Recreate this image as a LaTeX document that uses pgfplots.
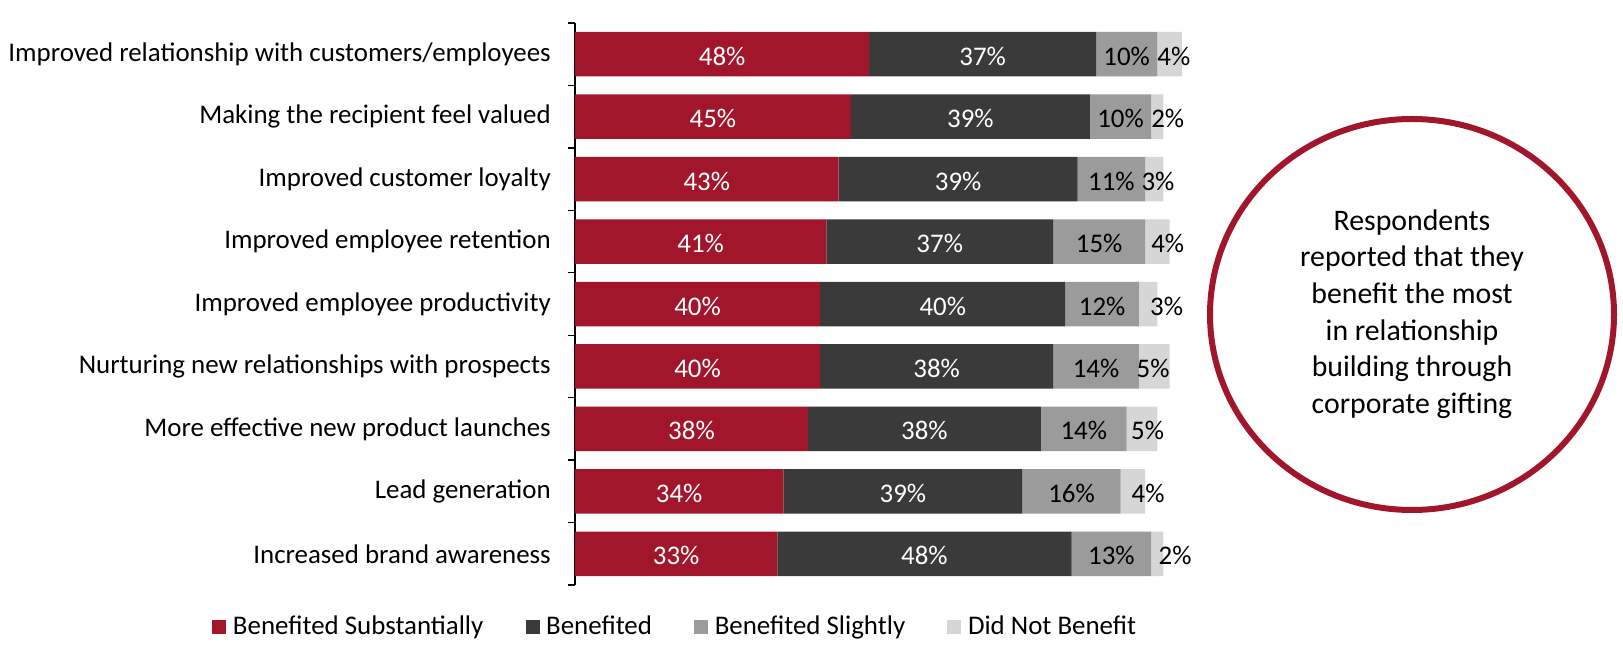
\documentclass[border=0pt]{standalone}
\usepackage{fontspec}
\setmainfont{Carlito}
\usepackage{pgfplots}
\pgfplotsset{compat=1.18}
\definecolor{cred}{RGB}{162,22,43}
\definecolor{cdark}{RGB}{58,58,58}
\definecolor{cgray}{RGB}{155,155,155}
\definecolor{clight}{RGB}{214,214,214}
\newcommand{\fs}{\fontsize{13.45}{16}\selectfont}
\begin{document}
\begin{tikzpicture}
\useasboundingbox (0,0) rectangle (811.5pt,329pt);
\pgfplotsset{base/.style={scale only axis, width=306.5pt, height=281pt,
  xmin=0, xmax=100, ymin=-0.5, ymax=8.5, at={(287.5pt,36.5pt)}, anchor=south west}}
\begin{axis}[base, xbar stacked, bar width=22.25pt,
  hide x axis, axis y line*=left, axis line style={-, line width=0.65pt, black},
  ytick={0,...,8},
  yticklabels={Increased brand awareness, Lead generation, More effective new product launches,
    Nurturing new relationships with prospects, Improved employee productivity,
    Improved employee retention, Improved customer loyalty, Making the recipient feel valued,
    Improved relationship with customers/employees},
  yticklabel style={font=\fs, xshift=-8.6pt},
  minor ytick={-0.5,0.5,...,8.5}, tick align=outside, major tick length=0pt, minor tick length=3.5pt,
  minor tick style={line width=0.65pt, black},
  legend style={at={(-0.5922,-0.0747)}, anchor=west, draw=none, fill=none, inner sep=0pt,
    legend columns=4, font=\fs, nodes={inner xsep=3.3pt, inner ysep=0pt},
    /tikz/every even column/.append style={column sep=17.8pt}},
  legend image code/.code={\fill[#1] (0pt,-3.5pt) rectangle (7pt,3.5pt);},
  legend cell align=left]
\addplot[fill=cred, draw=none] coordinates {(33,0) (34,1) (38,2) (40,3) (40,4) (41,5) (43,6) (45,7) (48,8)};
\addplot[fill=cdark, draw=none] coordinates {(48,0) (39,1) (38,2) (38,3) (40,4) (37,5) (39,6) (39,7) (37,8)};
\addplot[fill=cgray, draw=none] coordinates {(13,0) (16,1) (14,2) (14,3) (12,4) (15,5) (11,6) (10,7) (10,8)};
\addplot[fill=clight, draw=none] coordinates {(2,0) (4,1) (5,2) (5,3) (3,4) (4,5) (3,6) (2,7) (4,8)};
\legend{Benefited Substantially, Benefited, Benefited Slightly, Did Not Benefit}
\end{axis}
\begin{axis}[base, hide axis]
\addplot[draw=none, mark=none, nodes near coords={\pgfplotspointmeta\%}, point meta=explicit symbolic,
  nodes near coords style={anchor=center, text=white, font=\fs, yshift=-1pt}]
  table[meta=l] {
x y l
16.5 0 33
17 1 34
19 2 38
20 3 40
20 4 40
20.5 5 41
21.5 6 43
22.5 7 45
24 8 48
57 0 48
53.5 1 39
57 2 38
59 3 38
60 4 40
59.5 5 37
62.5 6 39
64.5 7 39
66.5 8 37
};
\addplot[draw=none, mark=none, nodes near coords={\pgfplotspointmeta\%}, point meta=explicit symbolic,
  nodes near coords style={anchor=center, text=black, font=\fs, yshift=-1pt}]
  table[meta=l] {
x y l
87.5 0 13
81 1 16
83 2 14
85 3 14
86 4 12
85.5 5 15
87.5 6 11
89 7 10
90 8 10
97.9 0 2
93.5 1 4
93.4 2 5
94.3 3 5
96.5 4 3
96.7 5 4
95.1 6 3
96.7 7 2
97.7 8 4
};
\end{axis}
\draw[cred, line width=3pt] (706pt,171.75pt) ellipse [x radius=101pt, y radius=97.75pt];
\node[align=center, font=\fontsize{14.9}{18.3}\selectfont, inner sep=0pt] at (706pt,172pt)
  {Respondents\\reported that they\\benefit the most\\in relationship\\building through\\corporate gifting};
\end{tikzpicture}
\end{document}
